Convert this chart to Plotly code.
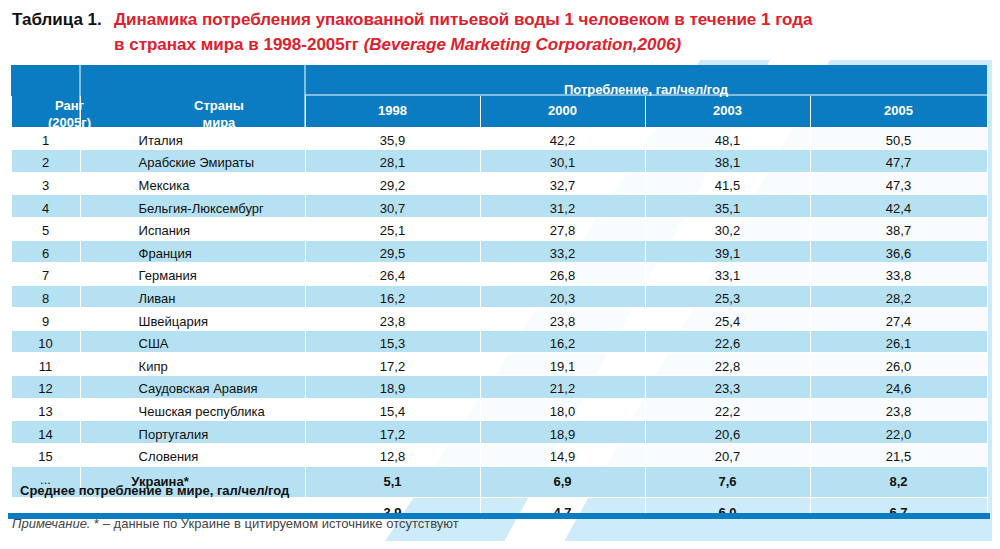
import plotly.graph_objects as go

# page is 1000x549, body margin 8px -> figure 984x533 offset by 8px
OFF = 8
W, H = 1000 - 2 * OFF, 549 - 2 * OFF

ranks = [str(i) for i in range(1, 16)] + ["..."]
countries = ["Италия", "Арабские Эмираты", "Мексика", "Бельгия-Люксембург", "Испания",
             "Франция", "Германия", "Ливан", "Швейцария", "США", "Кипр",
             "Саудовская Аравия", "Чешская республика", "Португалия", "Словения", "Украина*"]
v1998 = [35.9, 28.1, 29.2, 30.7, 25.1, 29.5, 26.4, 16.2, 23.8, 15.3, 17.2, 18.9, 15.4, 17.2, 12.8, 5.1]
v2000 = [42.2, 30.1, 32.7, 31.2, 27.8, 33.2, 26.8, 20.3, 23.8, 16.2, 19.1, 21.2, 18.0, 18.9, 14.9, 6.9]
v2003 = [48.1, 38.1, 41.5, 35.1, 30.2, 39.1, 33.1, 25.3, 25.4, 22.6, 22.8, 23.3, 22.2, 20.6, 20.7, 7.6]
v2005 = [50.5, 47.7, 47.3, 42.4, 38.7, 36.6, 33.8, 28.2, 27.4, 26.1, 26.0, 24.6, 23.8, 22.0, 21.5, 8.2]
avg_label = "Среднее потребление в мире, гал/чел/год"
avg_values = [3.9, 4.7, 6.0, 6.7]
years = ["1998", "2000", "2003", "2005"]

BLUE = "#0b7bc2"
LIGHT = "#b5e1f3"
FONT = "Liberation Sans Narrow, Arial Narrow, Liberation Sans, sans-serif"


def px(x):
    return (x - OFF) / W


def py(y):
    return 1 - (y - OFF) / H


def fmt(v):
    return f"{v:.1f}".replace(".", ",")


def bold_last(vals):
    return vals[:-1] + [f"<b>{vals[-1]}</b>"]


ind = "\u00a0" * 14
col_rank = ranks + [""]
col_country = [ind + c for c in countries[:-1]] + ["<b>" + "\u00a0" * 12 + countries[-1] + "</b>", ""]
cols_vals = []
for vals, av in zip([v1998, v2000, v2003, v2005], avg_values):
    cols_vals.append(bold_last([fmt(v) for v in vals]) + [f"<b>{fmt(av)}</b>"])

n = len(col_rank)
row_fill = []
for i in range(n):
    if i == n - 1:
        row_fill.append("rgba(255,255,255,0)")
    elif i % 2 == 0 and i != n - 2:
        row_fill.append("rgba(255,255,255,0.85)")
    else:
        row_fill.append(LIGHT)

edges = [11, 80, 305, 480, 645, 810, 987]
widths = [edges[i + 1] - edges[i] for i in range(6)]

fig = go.Figure()
fig.add_trace(go.Table(
    domain=dict(x=[px(11), px(987)], y=[py(516), py(95)]),
    columnwidth=widths,
    header=dict(
        values=["", ""] + [f"<b>{y}</b>" for y in years],
        fill_color=BLUE, line_color="white", line_width=1,
        font=dict(family=FONT, size=13, color="white"),
        align="center", height=32,
    ),
    cells=dict(
        values=[col_rank, col_country] + cols_vals,
        fill_color=[row_fill] * 6,
        line_color="white", line_width=1,
        font=dict(family=FONT, size=13, color="#111"),
        align=["center", "left", "center", "center", "center", "center"],
        height=22.6,
    ),
))

shapes = [
    # diagonal background bands
    dict(type="path", xref="paper", yref="paper", layer="below",
         path=f"M {px(700)} {py(60)} L {px(1000)} {py(60)} L {px(1000)} {py(549)} L {px(380)} {py(549)} Z",
         fillcolor="#cdebf8", line_width=0),
    dict(type="path", xref="paper", yref="paper", layer="below",
         path=f"M {px(770)} {py(60)} L {px(830)} {py(60)} L {px(560)} {py(549)} L {px(500)} {py(549)} Z",
         fillcolor="white", line_width=0),
    # top header band
    dict(type="rect", xref="paper", yref="paper", x0=px(11), x1=px(987), y0=py(96), y1=py(65),
         fillcolor=BLUE, line_width=0),
    dict(type="line", xref="paper", yref="paper", x0=px(80), x1=px(80), y0=py(127), y1=py(65),
         line=dict(color="white", width=1)),
    dict(type="line", xref="paper", yref="paper", x0=px(305), x1=px(305), y0=py(127), y1=py(65),
         line=dict(color="white", width=1)),
    dict(type="line", xref="paper", yref="paper", x0=px(305), x1=px(987), y0=py(95), y1=py(95),
         line=dict(color="white", width=1)),
    # bottom bar
    dict(type="rect", xref="paper", yref="paper", x0=px(8), x1=px(990), y0=py(519), y1=py(513),
         fillcolor=BLUE, line_width=0),
]

annotations = [
    dict(x=px(10), y=py(20), xref="paper", yref="paper", xanchor="left", yanchor="middle",
         showarrow=False, align="left",
         text="<b>Таблица 1.</b>", font=dict(family=FONT, size=17, color="#111")),
    dict(x=px(112), y=py(20), xref="paper", yref="paper", xanchor="left", yanchor="middle",
         showarrow=False, align="left",
         text="<b>Динамика потребления упакованной питьевой воды 1 человеком в течение 1 года</b>",
         font=dict(family=FONT, size=17, color="#e0202b")),
    dict(x=px(112), y=py(44), xref="paper", yref="paper", xanchor="left", yanchor="middle",
         showarrow=False, align="left",
         text="<b>в странах мира в 1998-2005гг <i>(Beverage Marketing Corporation,2006)</i></b>",
         font=dict(family=FONT, size=17, color="#e0202b")),
    dict(x=px(46), y=py(96), xref="paper", yref="paper", showarrow=False,
         text="<b>Ранг<br>(2005г)</b>", font=dict(family=FONT, size=13, color="white")),
    dict(x=px(192), y=py(96), xref="paper", yref="paper", showarrow=False,
         text="<b>Страны<br>мира</b>", font=dict(family=FONT, size=13, color="white")),
    dict(x=px(646), y=py(80), xref="paper", yref="paper", showarrow=False,
         text="<b>Потребление, гал/чел/год</b>", font=dict(family=FONT, size=13, color="white")),
    dict(x=px(18), y=py(500), xref="paper", yref="paper", xanchor="left", showarrow=False,
         text=f"<b>{avg_label}</b>", font=dict(family=FONT, size=13, color="#111")),
    dict(x=px(10), y=py(533), xref="paper", yref="paper", xanchor="left", showarrow=False,
         text="<i>Примечание.</i> * – данные по Украине в цитируемом источнике отсутствуют",
         font=dict(family=FONT, size=13, color="#444")),
]

fig.update_layout(
    width=W, height=H, margin=dict(l=0, r=0, t=0, b=0),
    paper_bgcolor="white", plot_bgcolor="white",
    shapes=shapes, annotations=annotations,
)

fig.write_html("out.html")
